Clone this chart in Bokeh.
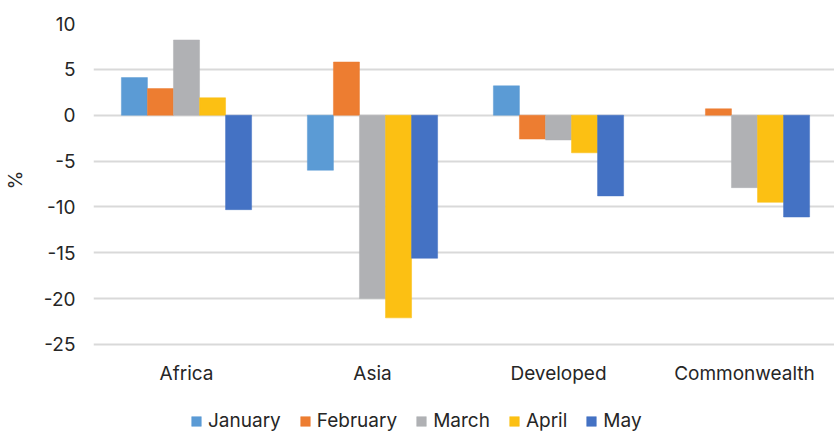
from bokeh.plotting import figure
from bokeh.models import ColumnDataSource, Legend, LegendItem, FactorRange
from bokeh.transform import dodge
from bokeh.embed import file_html
from bokeh.resources import INLINE

regions = ["Africa", "Asia", "Developed", "Commonwealth"]
months = ["January", "February", "March", "April", "May"]
january = [4.1, -6.0, 3.2, float("nan")]
february = [2.9, 5.8, -2.6, 0.7]
march = [8.2, -20.0, -2.7, -7.9]
april = [1.9, -22.1, -4.1, -9.5]
may = [-10.3, -15.6, -8.8, -11.1]
colors = ["#5B9BD5", "#ED7D31", "#B0B1B4", "#FCC013", "#4472C4"]
y_ticks = [-25, -20, -15, -10, -5, 0, 5, 10]
y_label = "%"

FONT = "Inter"
FS = "19px"
TXT = "#262626"

src = ColumnDataSource(dict(region=regions, January=january, February=february,
                            March=march, April=april, May=may))

p = figure(x_range=FactorRange(*regions), y_range=(-34.6, 10),
           frame_width=744, frame_height=409, output_backend="svg", toolbar_location=None,
           min_border_left=90, min_border_right=0, min_border_top=23, min_border_bottom=0)
p.outline_line_color = None
p.background_fill_color = "white"
p.border_fill_color = "white"

offsets = [-0.28, -0.14, 0.0, 0.14, 0.28]
items = []
for m, c, off in zip(months, colors, offsets):
    r = p.vbar(x=dodge("region", off, range=p.x_range), top=m, bottom=0, width=0.14,
               source=src, fill_color=c, line_color=c, line_alpha=0.5, line_width=1)
    items.append(LegendItem(label=m, renderers=[r]))

p.yaxis.ticker = y_ticks
p.yaxis.major_label_overrides = {t: str(t) for t in y_ticks}
p.yaxis.axis_line_color = None
p.yaxis.major_tick_line_color = None
p.yaxis.minor_tick_line_color = None
p.yaxis.major_label_standoff = 12
p.yaxis.major_label_text_font = FONT
p.yaxis.major_label_text_font_size = FS
p.yaxis.major_label_text_color = TXT
# the label is centred on the frame, which extends below the -25 line; pad to centre it on -25..10
p.yaxis.axis_label = "\u00a0" * 18 + y_label
p.yaxis.axis_label_text_font = FONT
p.yaxis.axis_label_text_font_size = FS
p.yaxis.axis_label_text_font_style = "normal"
p.yaxis.axis_label_text_color = TXT
p.yaxis.axis_label_standoff = 14

p.xaxis.fixed_location = y_ticks[0]
p.xaxis.axis_line_color = None
p.xaxis.major_tick_line_color = None
p.xaxis.minor_tick_line_color = None
p.xaxis.major_label_standoff = 12
p.xaxis.major_label_text_font = FONT
p.xaxis.major_label_text_font_size = FS
p.xaxis.major_label_text_color = TXT

p.xgrid.grid_line_color = None
p.ygrid.grid_line_color = "#D9D9D9"
p.ygrid.grid_line_width = 2

legend = Legend(items=items, orientation="horizontal", location=(97, 0),
                glyph_width=12, glyph_height=12, label_standoff=6, spacing=18,
                label_text_font=FONT, label_text_font_size=FS, label_text_color=TXT,
                border_line_color=None, background_fill_alpha=0, padding=0, margin=0)
p.add_layout(legend, "center")

open("out.html", "w").write(file_html(p, INLINE))
